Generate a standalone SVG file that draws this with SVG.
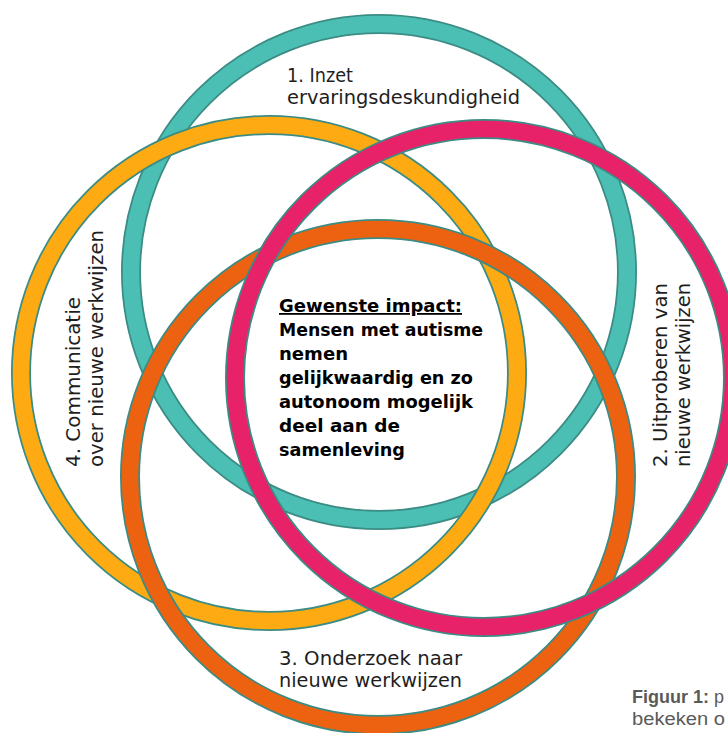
<svg xmlns="http://www.w3.org/2000/svg" width="728" height="733" viewBox="0 0 728 733">
<style>
.ol{fill:none;stroke:#3b8c84;stroke-width:20}
.band{fill:none;stroke-width:16.5}
.lbl{font-family:"DejaVu Sans","Liberation Sans",sans-serif;font-size:19.5px;fill:#1e1e1e}
.ctr{font-family:"DejaVu Sans","Liberation Sans",sans-serif;font-size:18px;font-weight:bold;fill:#000}
.cap{font-family:"Liberation Sans","DejaVu Sans",sans-serif;font-size:18px;fill:#5a5a5a}
</style>
<rect width="728" height="733" fill="#ffffff"/>
<g id="ring-1-teal">
<circle cx="379" cy="272" r="248" class="ol"/>
<circle cx="379" cy="272" r="248" class="band" stroke="#4cbfb4"/>
</g>
<g id="ring-4-yellow">
<circle cx="269" cy="373" r="248" class="ol"/>
<circle cx="269" cy="373" r="248" class="band" stroke="#fdaa13"/>
</g>
<g id="ring-3-orange">
<circle cx="378" cy="477" r="248" class="ol"/>
<circle cx="378" cy="477" r="248" class="band" stroke="#ed6211"/>
</g>
<g id="ring-2-pink">
<circle cx="484" cy="378" r="249" class="ol"/>
<circle cx="484" cy="378" r="249" class="band" stroke="#e82268"/>
</g>
<g id="label-1">
<text class="lbl" x="287" y="82" textLength="66" lengthAdjust="spacingAndGlyphs">1. Inzet</text>
<text class="lbl" x="287" y="104" textLength="233" lengthAdjust="spacingAndGlyphs">ervaringsdeskundigheid</text>
</g>
<g id="label-2" transform="translate(667,467) rotate(-90)">
<text class="lbl" x="0" y="0" textLength="184" lengthAdjust="spacingAndGlyphs">2. Uitproberen van</text>
<text class="lbl" x="0" y="23" textLength="184" lengthAdjust="spacingAndGlyphs">nieuwe werkwijzen</text>
</g>
<g id="label-3">
<text class="lbl" x="279" y="665" textLength="183" lengthAdjust="spacingAndGlyphs">3. Onderzoek naar</text>
<text class="lbl" x="279" y="687" textLength="183" lengthAdjust="spacingAndGlyphs">nieuwe werkwijzen</text>
</g>
<g id="label-4" transform="translate(80,467) rotate(-90)">
<text class="lbl" x="0" y="0" textLength="170" lengthAdjust="spacingAndGlyphs">4. Communicatie</text>
<text class="lbl" x="0" y="23" textLength="237" lengthAdjust="spacingAndGlyphs">over nieuwe werkwijzen</text>
</g>
<g id="center-impact">
<text class="ctr" x="279" y="312" textLength="183" lengthAdjust="spacingAndGlyphs" text-decoration="underline">Gewenste impact:</text>
<text class="ctr" x="279" y="336" textLength="204" lengthAdjust="spacingAndGlyphs">Mensen met autisme</text>
<text class="ctr" x="279" y="360" textLength="69" lengthAdjust="spacingAndGlyphs">nemen</text>
<text class="ctr" x="279" y="384" textLength="194" lengthAdjust="spacingAndGlyphs">gelijkwaardig en zo</text>
<text class="ctr" x="279" y="408" textLength="194" lengthAdjust="spacingAndGlyphs">autonoom mogelijk</text>
<text class="ctr" x="279" y="432" textLength="121" lengthAdjust="spacingAndGlyphs">deel aan de</text>
<text class="ctr" x="279" y="456" textLength="126" lengthAdjust="spacingAndGlyphs">samenleving</text>
</g>
<g id="caption">
<text class="cap" x="632" y="703"><tspan font-weight="bold">Figuur 1:</tspan> p</text>
<text class="cap" x="632" y="725" textLength="93" lengthAdjust="spacingAndGlyphs">bekeken o</text>
</g>
</svg>
